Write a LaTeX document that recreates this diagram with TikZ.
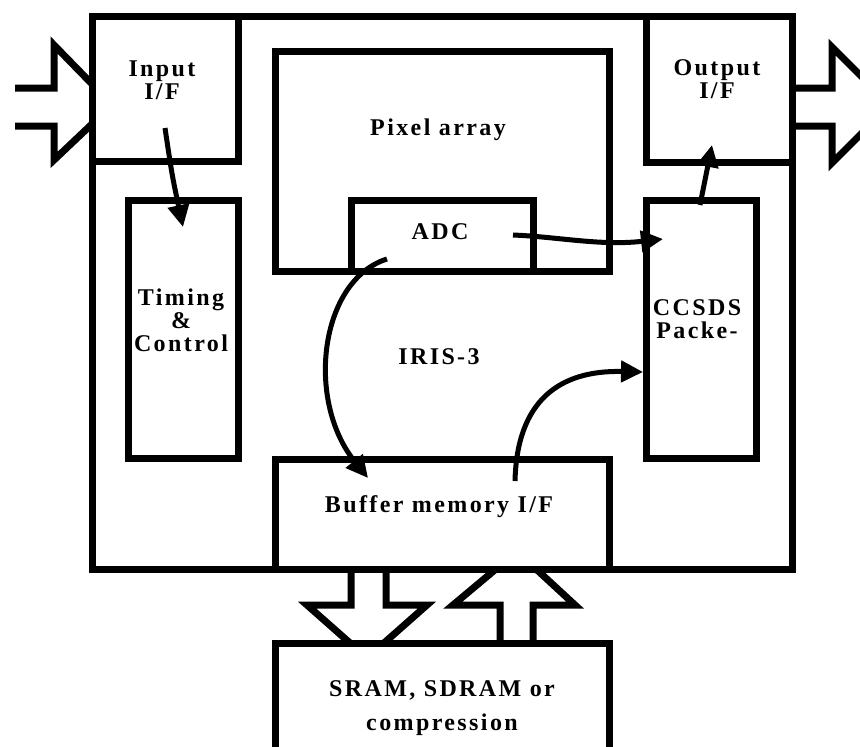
\documentclass[tikz,border=0pt]{standalone}
\usepackage{fontspec}
\setmainfont{Liberation Serif}[LetterSpace=10]
\usetikzlibrary{arrows.meta}
\begin{document}
\begin{tikzpicture}[
  x=1pt, y=-1pt,
  box/.style={draw=black, line width=7pt, inner sep=0pt, outer sep=0pt},
  lbl/.style={font=\bfseries\fontsize{24}{23}\selectfont, align=center,
              inner sep=0pt},
  flow/.style={draw=black, line width=5pt,
               -{Triangle[length=22pt, width=21pt]}},
  port/.style={draw=black, line width=7pt}]
  \useasboundingbox (0,0) rectangle (860,747);
  \draw[port] (15,88) -- (54,88) -- (54,45) -- (92,84);
  \draw[port] (15,126) -- (54,126) -- (54,160) -- (92,124);
  \draw[port] (792,88) -- (832,88) -- (832,47) -- (890,105)
              -- (832,163) -- (832,126) -- (792,126);
  \draw[port] (351,569) -- (351,605) -- (307,605) -- (350,643);
  \draw[port] (386,569) -- (386,605) -- (427,605) -- (384,643);
  \draw[port] (500,643) -- (500,605) -- (453,605) -- (496,569);
  \draw[port] (533,643) -- (533,605) -- (575,605) -- (536,569);
  \node[box, minimum width=700pt, minimum height=553pt] (chip) at (442,292.5) {};
  \node[box, minimum width=146pt, minimum height=145pt] (inif) at (165,88.5) {};
  \node[box, minimum width=146pt, minimum height=146pt] (outif) at (719,89) {};
  \node[box, minimum width=334pt, minimum height=220pt] (pix) at (442,161) {};
  \node[box, minimum width=182pt, minimum height=71pt] (adc) at (442,235.5) {};
  \node[box, minimum width=110pt, minimum height=258pt] (tim) at (183,329) {};
  \node[box, minimum width=110pt, minimum height=258pt] (ccsds) at (701,329) {};
  \node[box, minimum width=334pt, minimum height=110pt] (buf) at (442,514) {};
  \node[box, minimum width=334pt, minimum height=160pt] (sram) at (442,723) {};
  \node[lbl] (inift) at (162,80) {Input\\I/F};
  \node[lbl] (outift) at (717,79) {Output\\I/F};
  \node[lbl] (pixt) at (438,130) {Pixel array};
  \node[lbl] (adct) at (440,232) {ADC};
  \node[lbl] (timt) at (181,320) {Timing\\\&\\Control};
  \node[lbl] (ccsdst) at (697,319) {CCSDS\\Packe-};
  \node[lbl] (irist) at (439,357) {IRIS-3};
  \node[lbl] (buft) at (439,507) {Buffer memory I/F};
  \node[lbl] (sramt) at (442,708) {SRAM, SDRAM or\\[11pt]compression};
  \coordinate (inifout) at (165,128);
  \coordinate (timin) at (183,227);
  \coordinate (ccsdsup) at (700,205);
  \coordinate (outifin) at (712,145);
  \coordinate (adcright) at (513,235);
  \coordinate (ccsdsin) at (663,239);
  \coordinate (adcleft) at (387,259);
  \coordinate (bufin) at (368,478);
  \coordinate (bufout) at (515,481);
  \coordinate (ccsdsside) at (643,372);
  \draw[flow] (inifout) .. controls (172,175) .. (timin);
  \draw[flow] (ccsdsup) -- (outifin);
  \draw[flow] (adcright) .. controls (560,237) and (600,246) .. (ccsdsin);
  \draw[flow] (adcleft) .. controls (320,280) and (305,400) .. (bufin);
  \draw[flow] (bufout) .. controls (517,400) and (560,370) .. (ccsdsside);
\end{tikzpicture}
\end{document}
